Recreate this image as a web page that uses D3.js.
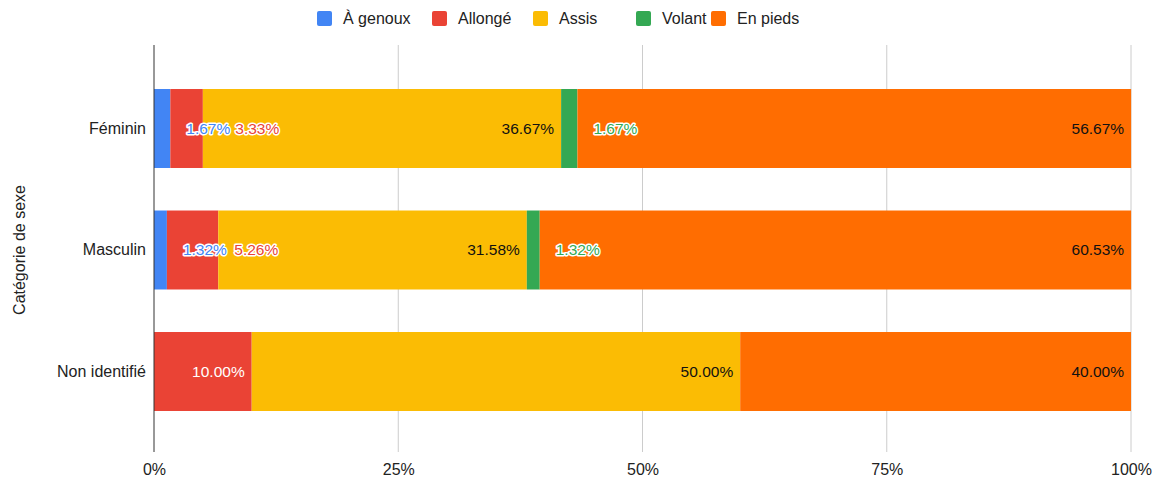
<!DOCTYPE html>
<html>
<head>
    <meta charset="utf-8">
    <title>Catégorie de sexe</title>
    <style type="text/css">
        body { margin: 0; background: #fff; }
        svg text { font-family: Arial, "Liberation Sans", sans-serif; }
    </style>
</head>
<body>
<div id="chart"></div>
<script src="https://cdn.jsdelivr.net/npm/d3@7"></script>
<script type="text/javascript">
    // data
    var categories = ["Féminin", "Masculin", "Non identifié"];
    var series = ["À genoux", "Allongé", "Assis", "Volant", "En pieds"];
    var colors = ["#4285f4", "#ea4335", "#fbbc04", "#34a853", "#ff6d01"];
    var genoux = [1.67, 1.32, 0];
    var allonge = [3.33, 5.26, 10.00];
    var assis = [36.67, 31.58, 50.00];
    var volant = [1.67, 1.32, 0];
    var pieds = [56.67, 60.53, 40.00];
    var ticks = [0, 25, 50, 75, 100];
    var values = [genoux, allonge, assis, volant, pieds];

    var W = 1162, H = 479;
    var pLeft = 154, pRight = 1131, pTop = 45, pBottom = 452;
    var FS = 16;

    var svg = d3.select('#chart').append('svg')
        .attr('width', W).attr('height', H);

    var x = d3.scaleLinear().domain([0, 100]).range([pLeft, pRight]);
    var y = d3.scaleBand().domain(categories).range([67.75, 432.25]).paddingInner(0.35).paddingOuter(0.175);

    //网格线
    svg.append('g').selectAll('line')
        .data(ticks.slice(1))
        .enter().append('line')
        .attr('x1', function (d) { return x(d); })
        .attr('x2', function (d) { return x(d); })
        .attr('y1', pTop).attr('y2', pBottom)
        .attr('stroke', '#cccccc').attr('stroke-width', 1);

    // x axis labels
    var xAxis = d3.axisBottom(x).tickValues(ticks).tickSize(0)
        .tickFormat(function (d) { return d + '%'; });
    var gx = svg.append('g').attr('transform', 'translate(0,' + (pBottom + 9) + ')').call(xAxis);
    gx.select('.domain').remove();
    gx.selectAll('text').attr('font-size', FS).attr('fill', '#222')
        .attr('font-family', 'Arial, "Liberation Sans", sans-serif');

    // y axis labels
    var yAxis = d3.axisLeft(y).tickSize(0).tickPadding(8);
    var gy = svg.append('g').attr('transform', 'translate(' + pLeft + ',0)').call(yAxis);
    gy.select('.domain').remove();
    gy.selectAll('text').attr('font-size', FS).attr('fill', '#222')
        .attr('font-family', 'Arial, "Liberation Sans", sans-serif');

    // stacked bars
    var rows = categories.map(function (c, i) {
        var acc = 0;
        return series.map(function (s, k) {
            var v = values[k][i];
            var seg = {cat: c, k: k, v: v, x0: acc, x1: acc + v};
            acc += v;
            return seg;
        }).filter(function (d) { return d.v > 0; });
    });

    rows.forEach(function (segs) {
        var g = svg.append('g');
        g.selectAll('rect').data(segs).enter().append('rect')
            .attr('x', function (d) { return x(d.x0); })
            .attr('y', function (d) { return y(d.cat); })
            .attr('width', function (d) { return x(d.x1) - x(d.x0); })
            .attr('height', y.bandwidth())
            .attr('fill', function (d) { return colors[d.k]; });

        // labels
        var prevEnd = 0;
        segs.forEach(function (d) {
            var txt = d.v.toFixed(2) + '%';
            var w = x(d.x1) - x(d.x0);
            var cy = y(d.cat) + y.bandwidth() / 2;
            var t = g.append('text').text(txt)
                .attr('y', cy).attr('dy', '0.35em')
                .attr('font-size', 15.5)
                .attr('font-family', 'Roboto, Arial, sans-serif');
            var tw = t.node().getComputedTextLength();
            if (w > tw + 14) {
                t.attr('x', x(d.x1) - 7).attr('text-anchor', 'end')
                    .attr('fill', d.k === 1 ? '#ffffff' : '#111111');
                prevEnd = x(d.x1);
            } else {
                var sx = Math.max(x(d.x1) + 16, prevEnd + 5);
                t.attr('x', sx).attr('text-anchor', 'start')
                    .attr('fill', colors[d.k])
                    .attr('stroke', '#ffffff').attr('stroke-width', 3)
                    .attr('stroke-linejoin', 'round')
                    .attr('paint-order', 'stroke');
                prevEnd = sx + tw;
            }
        });
    });

    // axis line
    svg.append('line')
        .attr('x1', pLeft).attr('x2', pLeft)
        .attr('y1', pTop).attr('y2', pBottom)
        .attr('stroke', '#333333').attr('stroke-width', 1);

    // y title
    svg.append('text')
        .attr('transform', 'translate(19,' + 250 + ') rotate(-90)')
        .attr('text-anchor', 'middle').attr('dy', '0.35em')
        .attr('font-size', FS).attr('fill', '#222')
        .text('Catégorie de sexe');

    // legend
    var legX = [317, 432, 533, 636, 711];
    var leg = svg.append('g').selectAll('g')
        .data(series).enter().append('g')
        .attr('transform', function (d, i) { return 'translate(' + legX[i] + ',11)'; });
    leg.append('rect')
        .attr('width', 15).attr('height', 15).attr('rx', 2)
        .attr('fill', function (d, i) { return colors[i]; });
    leg.append('text')
        .attr('x', 26).attr('y', 7.5).attr('dy', '0.35em')
        .attr('font-size', FS).attr('fill', '#222')
        .text(function (d) { return d; });
</script>
</body>
</html>
